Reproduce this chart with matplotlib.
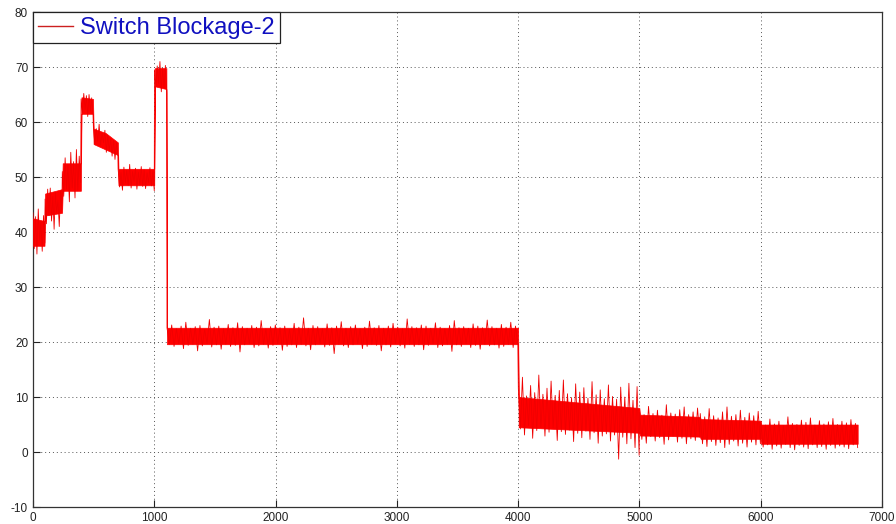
import numpy as np
import matplotlib
matplotlib.use("Agg")
from matplotlib import pyplot as plt

plt.rcParams['font.family'] = ['Liberation Sans', 'DejaVu Sans']
plt.rcParams['axes.unicode_minus'] = False

# solid body of the trace: (sample, lower edge, upper edge)
core_x = [0, 95, 100, 240, 245, 395, 400, 495, 500, 600, 700, 705, 1000, 1005, 1100,
          1105, 4000, 4005, 4500, 5000, 5005, 5500, 5505, 6000, 6005, 6800]
core_lo = [37.5, 37.5, 43.0, 43.5, 47.5, 47.5, 61.5, 61.5, 56.0, 55.0, 54.0, 48.5, 48.5, 66.5, 66.0,
           19.6, 19.6, 4.5, 4.0, 3.5, 3.0, 2.8, 2.4, 2.4, 1.5, 1.5]
core_hi = [42.5, 42.0, 47.0, 47.8, 52.5, 52.5, 64.5, 64.2, 58.8, 58.0, 56.3, 51.5, 51.5, 69.8, 69.8,
           22.6, 22.6, 10.0, 9.0, 8.0, 6.8, 6.4, 6.0, 5.7, 5.0, 5.0]

# noise spikes per plateau: start, end, peaks, troughs
seg_start = [0, 100, 242, 397, 498, 702, 1002, 1105, 4002, 5002, 5502, 6002]
seg_end = [98, 238, 393, 495, 700, 1000, 1103, 3998, 4998, 5498, 5998, 6800]
seg_peaks = [
    [43.5, 42.8, 44.2, 41.9, 43.0],
    [46.0, 47.8, 48.0, 46.5, 47.2, 45.8, 47.5],
    [51.0, 53.5, 52.2, 54.5, 52.8, 55.0, 53.8],
    [64.2, 65.2, 64.8, 65.0, 64.4],
    [59.2, 58.8, 59.6, 58.0, 58.5, 57.6, 57.0, 56.7, 56.2],
    [51.5, 50.8, 51.8, 51.2, 52.3, 51.0, 51.6, 50.9, 51.9, 51.3, 50.8, 51.7, 51.0],
    [69.5, 70.2, 71.0, 69.8, 70.3],
    [22.6, 23.1, 22.4, 22.9, 23.6, 22.5, 22.8, 23.0, 22.3, 24.1,
     22.7, 22.9, 22.4, 23.2, 22.6, 23.5, 22.8, 22.5, 23.0, 22.7,
     23.9, 22.4, 22.8, 23.1, 22.6, 22.9, 22.3, 23.4, 22.7, 24.4,
     22.5, 23.0, 22.8, 22.4, 23.3, 22.6, 22.9, 23.7, 22.5, 22.8,
     23.1, 22.4, 22.7, 23.8, 22.6, 23.0, 22.5, 22.9, 23.4, 22.7,
     22.4, 24.2, 22.8, 22.6, 23.1, 22.9, 22.5, 23.5, 22.7, 22.4,
     23.0, 23.9, 22.6, 22.8, 22.5, 23.3, 22.9, 22.6, 24.0, 22.8,
     22.5, 23.2, 22.7, 23.6, 22.9],
    [11.5, 13.6, 10.2, 12.1, 10.8, 14.0, 10.5, 11.6, 12.9, 10.3, 11.2, 13.1, 10.6, 9.9, 12.4,
     10.9, 11.7, 9.8, 12.8, 10.4, 11.3, 9.7, 12.2, 10.1, 9.6, 11.8, 10.0, 12.5, 9.4, 11.9],
    [7.2, 6.8, 8.3, 7.0, 7.6, 6.7, 8.6, 7.1, 6.9, 7.7, 8.2, 6.8, 7.3, 8.0],
    [7.0, 6.4, 7.9, 6.6, 6.2, 7.3, 8.2, 6.5, 6.8, 7.6, 6.3, 7.1, 6.6, 7.4],
    [5.3, 4.9, 6.0, 5.1, 5.6, 4.8, 6.4, 5.2, 5.0, 5.8, 5.4, 6.2, 4.9, 5.7, 5.1, 5.5, 6.1, 5.0,
     5.6, 5.3, 5.9, 5.2],
]
seg_troughs = [
    [37.0, 36.0, 38.5, 36.5, 38.0],
    [41.5, 43.0, 42.0, 40.5, 43.5, 41.0, 44.0],
    [46.5, 47.8, 45.5, 48.0, 46.2, 47.5, 49.0],
    [61.8, 62.3, 61.0, 62.0, 61.5],
    [56.0, 56.5, 55.8, 56.2, 54.5, 54.8, 53.8, 53.2, 54.0],
    [48.2, 47.6, 49.0, 48.5, 48.0, 49.2, 47.8, 48.6, 48.3, 47.9, 49.0, 48.4, 47.5],
    [66.5, 67.0, 65.5, 66.2, 65.3],
    [19.6, 19.2, 19.7, 18.8, 19.4, 19.6, 18.4, 19.3, 19.7, 19.1,
     19.5, 18.7, 19.6, 19.2, 19.4, 18.2, 19.5, 19.7, 19.0, 19.3,
     19.6, 18.9, 19.4, 19.7, 18.5, 19.2, 19.5, 19.0, 19.6, 19.3,
     18.6, 19.5, 19.7, 19.1, 19.4, 17.9, 19.6, 19.3, 19.0, 19.5,
     19.7, 18.8, 19.2, 19.6, 19.4, 18.4, 19.5, 19.1, 19.7, 19.3,
     18.9, 19.6, 19.2, 19.5, 18.6, 19.4, 19.7, 19.0, 19.3, 19.6,
     18.3, 19.5, 19.2, 19.7, 19.0, 19.4, 18.7, 19.6, 19.3, 19.5,
     18.9, 19.2, 19.6, 19.0, 19.4],
    [4.2, 3.1, 4.8, 2.5, 3.9, 4.5, 2.9, 3.6, 4.4, 2.1, 3.7, 3.2, 4.0, 1.9, 3.4, 2.6, 3.8, 2.3,
     3.5, 1.6, 2.9, 3.3, 2.0, 3.1, -1.3, 2.7, 1.5, 2.4, 0.8, -0.6],
    [2.3, 1.6, 2.8, 2.0, 2.6, 1.4, 2.2, 2.9, 1.8, 2.5, 1.5, 2.4, 2.1, 2.7],
    [1.5, 1.0, 1.9, 1.2, 1.7, 0.8, 1.4, 2.0, 1.1, 1.6, 0.9, 1.8, 1.3, 1.5],
    [0.9, 1.3, 0.5, 1.1, 0.7, 1.4, 0.8, 0.4, 1.2, 0.9, 0.6, 1.3, 0.8, 1.0, 0.5, 1.2, 0.7, 1.1,
     0.9, 0.6, 1.3, 0.8],
]

legend_label = 'Switch Blockage-2'
x_ticks = [0, 1000, 2000, 3000, 4000, 5000, 6000, 7000]
y_ticks = [-10, 0, 10, 20, 30, 40, 50, 60, 70, 80]

# chain the spikes of all plateaus into one trace
trace_x = []
trace_y = []
for x0, x1, pk, tr in zip(seg_start, seg_end, seg_peaks, seg_troughs):
    ys = np.column_stack([pk, tr]).ravel()
    trace_x.append(np.linspace(x0, x1, len(ys)))
    trace_y.append(ys)
trace_x = np.concatenate(trace_x)
trace_y = np.concatenate(trace_y)

fig = plt.figure(figsize=(8.96, 5.24), dpi=100)
ax = fig.add_axes([0.0368, 0.0324, 0.9475, 0.9446])

ax.fill_between(core_x, core_lo, core_hi, color='#ff0000', linewidth=0.5, zorder=3)
ax.plot(trace_x, trace_y, color='#f00000', linewidth=0.6, zorder=3, label=legend_label)

ax.set_xlim(0, 7000)
ax.set_ylim(-10, 80)
ax.set_xticks(x_ticks)
ax.set_yticks(y_ticks)
ax.grid(True, linestyle=(0, (1, 3)), color='#555555', linewidth=0.7)
ax.tick_params(direction='in', length=5, labelsize=8.5, colors='#222222', width=0.8)
for sp in ax.spines.values():
    sp.set_color('#333333')
    sp.set_linewidth(0.9)

leg = ax.legend(loc='upper left', borderaxespad=0, fancybox=False, framealpha=1,
                edgecolor='#222222', fontsize=17, handlelength=1.5, handletextpad=0.3,
                borderpad=0.2)
leg.get_frame().set_linewidth(0.9)
for txt in leg.get_texts():
    txt.set_color('#1010c0')
leg.get_lines()[0].set_linewidth(1.0)
leg.get_lines()[0].set_color('#cc2020')

fig.savefig('out.png', dpi=100)
